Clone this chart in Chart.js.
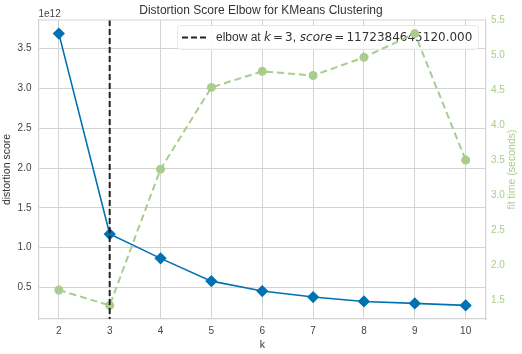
<!DOCTYPE html>
<html>
<head>
<meta charset="utf-8">
<script src="https://cdn.jsdelivr.net/npm/chart.js@4.4.1/dist/chart.umd.min.js"></script>
<style>
  body { margin: 0; background: #fff; }
  #wrap { width: 522px; height: 354px; }
</style>
</head>
<body>
<div id="wrap"><canvas id="elbowChart" width="522" height="354"></canvas></div>
<script>
// values
var kValues = [2, 3, 4, 5, 6, 7, 8, 9, 10];
var distortion = [3.69e12, 1.172e12, 0.866e12, 0.58e12, 0.455e12, 0.38e12, 0.325e12, 0.30e12, 0.275e12];
var fitTimes = [1.64, 1.42, 3.37, 4.54, 4.77, 4.71, 4.97, 5.31, 3.50];
var leftTicks = [0.5, 1.0, 1.5, 2.0, 2.5, 3.0, 3.5];
var rightTicks = [1.5, 2.0, 2.5, 3.0, 3.5, 4.0, 4.5, 5.0, 5.5];
var elbowK = 3;
var elbowScore = '1172384645120.000';

var FONT = '"Liberation Sans", Arial, sans-serif';
var MATH = '"DejaVu Sans", sans-serif';
var BLUE = '#0072B2';
var GREEN = 'rgb(168, 205, 140)';
var GRID = '#d3d3d3';

// matplotlib-like 5% margins
function padRange(arr) {
    var lo = Math.min.apply(null, arr), hi = Math.max.apply(null, arr);
    var m = (hi - lo) * 0.05;
    return [lo - m, hi + m];
}
var kRange = padRange(kValues);
var dRange = padRange(distortion);
var tRange = padRange(fitTimes);

function drawLegend(chart) {
    var ctx = chart.ctx;
    var bx = 177, by = 25, bw = 301, bh = 24;
    ctx.save();
    ctx.fillStyle = 'rgba(255,255,255,0.85)';
    ctx.strokeStyle = '#e6e6e6';
    ctx.lineWidth = 1;
    ctx.beginPath();
    ctx.roundRect(bx + 0.5, by + 0.5, bw, bh, 3);
    ctx.fill();
    ctx.stroke();
    ctx.strokeStyle = '#222';
    ctx.lineWidth = 2;
    ctx.setLineDash([6, 3]);
    ctx.beginPath();
    ctx.moveTo(bx + 5, by + 12.5);
    ctx.lineTo(bx + 30, by + 12.5);
    ctx.stroke();
    ctx.setLineDash([]);
    // [text, font, gap after]
    var parts = [
        ['elbow at ', '12px ' + FONT, 0],
        ['k', 'italic 12px ' + MATH, 2],
        ['=', '12px ' + MATH, 2],
        ['3', '12px ' + MATH, 0],
        [', ', '12px ' + FONT, 0.5],
        ['score', 'italic 12px ' + MATH, 2],
        ['=', '12px ' + MATH, 2],
        [elbowScore, '12px ' + MATH, 0]
    ];
    var tx = bx + 39;
    ctx.fillStyle = '#333';
    ctx.textBaseline = 'middle';
    ctx.textAlign = 'left';
    parts.forEach(function(p) {
        ctx.font = p[1];
        ctx.fillText(p[0], tx, by + 13);
        tx += ctx.measureText(p[0]).width + p[2];
    });
    ctx.restore();
}

var extras = {
    id: 'extras',
    beforeDatasetsDraw: function(chart) {
        drawLegend(chart);
    },
    afterDatasetsDraw: function(chart) {
        var ctx = chart.ctx, a = chart.chartArea;
        var x = chart.scales.x.getPixelForValue(elbowK);
        ctx.save();
        // elbow line
        ctx.strokeStyle = '#222';
        ctx.lineWidth = 2;
        ctx.setLineDash([6, 3]);
        ctx.beginPath();
        ctx.moveTo(x, a.top);
        ctx.lineTo(x, a.bottom);
        ctx.stroke();
        ctx.setLineDash([]);
        // top spine
        ctx.strokeStyle = GRID;
        ctx.lineWidth = 1.2;
        ctx.beginPath();
        ctx.moveTo(a.left, a.top);
        ctx.lineTo(a.right, a.top);
        ctx.stroke();
        // offset text
        ctx.fillStyle = '#444';
        ctx.font = '10px ' + FONT;
        ctx.textBaseline = 'bottom';
        ctx.textAlign = 'left';
        ctx.fillText('1e12', a.left, a.top - 1);
        // right axis title, reading upwards like matplotlib
        ctx.translate(512, (a.top + a.bottom) / 2);
        ctx.rotate(-Math.PI / 2);
        ctx.fillStyle = GREEN;
        ctx.font = '10.5px ' + FONT;
        ctx.textAlign = 'center';
        ctx.textBaseline = 'middle';
        ctx.fillText('fit time (seconds)', 0, 0);
        ctx.restore();
    }
};

new Chart(document.getElementById('elbowChart').getContext('2d'), {
    type: 'line',
    data: {
        datasets: [{
            label: 'distortion score',
            data: kValues.map(function(k, i) { return { x: k, y: distortion[i] }; }),
            yAxisID: 'y',
            borderColor: BLUE,
            backgroundColor: BLUE,
            borderWidth: 1.6,
            pointStyle: 'rectRot',
            pointRadius: 5,
            tension: 0,
            order: 2
        }, {
            label: 'fit time (seconds)',
            data: kValues.map(function(k, i) { return { x: k, y: fitTimes[i] }; }),
            yAxisID: 'y2',
            borderColor: GREEN,
            backgroundColor: GREEN,
            borderWidth: 2,
            borderDash: [7, 4],
            pointStyle: 'circle',
            pointRadius: 4.5,
            pointBorderWidth: 0,
            tension: 0,
            order: 1
        }]
    },
    options: {
        responsive: false,
        animation: false,
        layout: { padding: 0 },
        plugins: {
            legend: { display: false },
            tooltip: { enabled: false },
            title: {
                display: true,
                text: 'Distortion Score Elbow for KMeans Clustering',
                color: '#333',
                font: { family: FONT, size: 12, weight: 'normal', lineHeight: 1.2 },
                padding: { top: 3, bottom: 2.6 }
            }
        },
        scales: {
            x: {
                type: 'linear',
                min: kRange[0],
                max: kRange[1],
                afterBuildTicks: function(s) { s.ticks = kValues.map(function(v) { return { value: v }; }); },
                afterFit: function(s) { s.height = 35; },
                grid: { color: GRID, lineWidth: 1, drawTicks: false },
                border: { color: GRID, width: 1.2 },
                ticks: { color: '#444', font: { family: FONT, size: 10 }, padding: 6, maxRotation: 0 },
                title: { display: true, text: 'k', color: '#333', font: { family: FONT, size: 10.5 }, padding: { top: 2, bottom: 3 } }
            },
            y: {
                position: 'left',
                min: dRange[0],
                max: dRange[1],
                afterBuildTicks: function(s) { s.ticks = leftTicks.map(function(v) { return { value: v * 1e12 }; }); },
                afterFit: function(s) { s.width = 38.5; },
                grid: { color: GRID, lineWidth: 1, drawTicks: false },
                border: { color: GRID, width: 1.2 },
                ticks: {
                    color: '#444', font: { family: FONT, size: 10 }, padding: 7,
                    callback: function(v) { return (v / 1e12).toFixed(1); }
                },
                title: { display: true, text: 'distortion score', color: '#333', font: { family: FONT, size: 10.5 }, padding: { top: 1, bottom: 0 } }
            },
            y2: {
                position: 'right',
                min: tRange[0],
                max: tRange[1],
                afterBuildTicks: function(s) { s.ticks = rightTicks.map(function(v) { return { value: v }; }); },
                afterFit: function(s) { s.width = 36; },
                grid: { display: false, drawTicks: false },
                border: { color: GRID, width: 1.2 },
                ticks: {
                    color: GREEN, font: { family: FONT, size: 10 }, padding: 5,
                    callback: function(v) { return v.toFixed(1); }
                },
                title: { display: false }
            }
        }
    },
    plugins: [extras]
});
</script>
</body>
</html>
